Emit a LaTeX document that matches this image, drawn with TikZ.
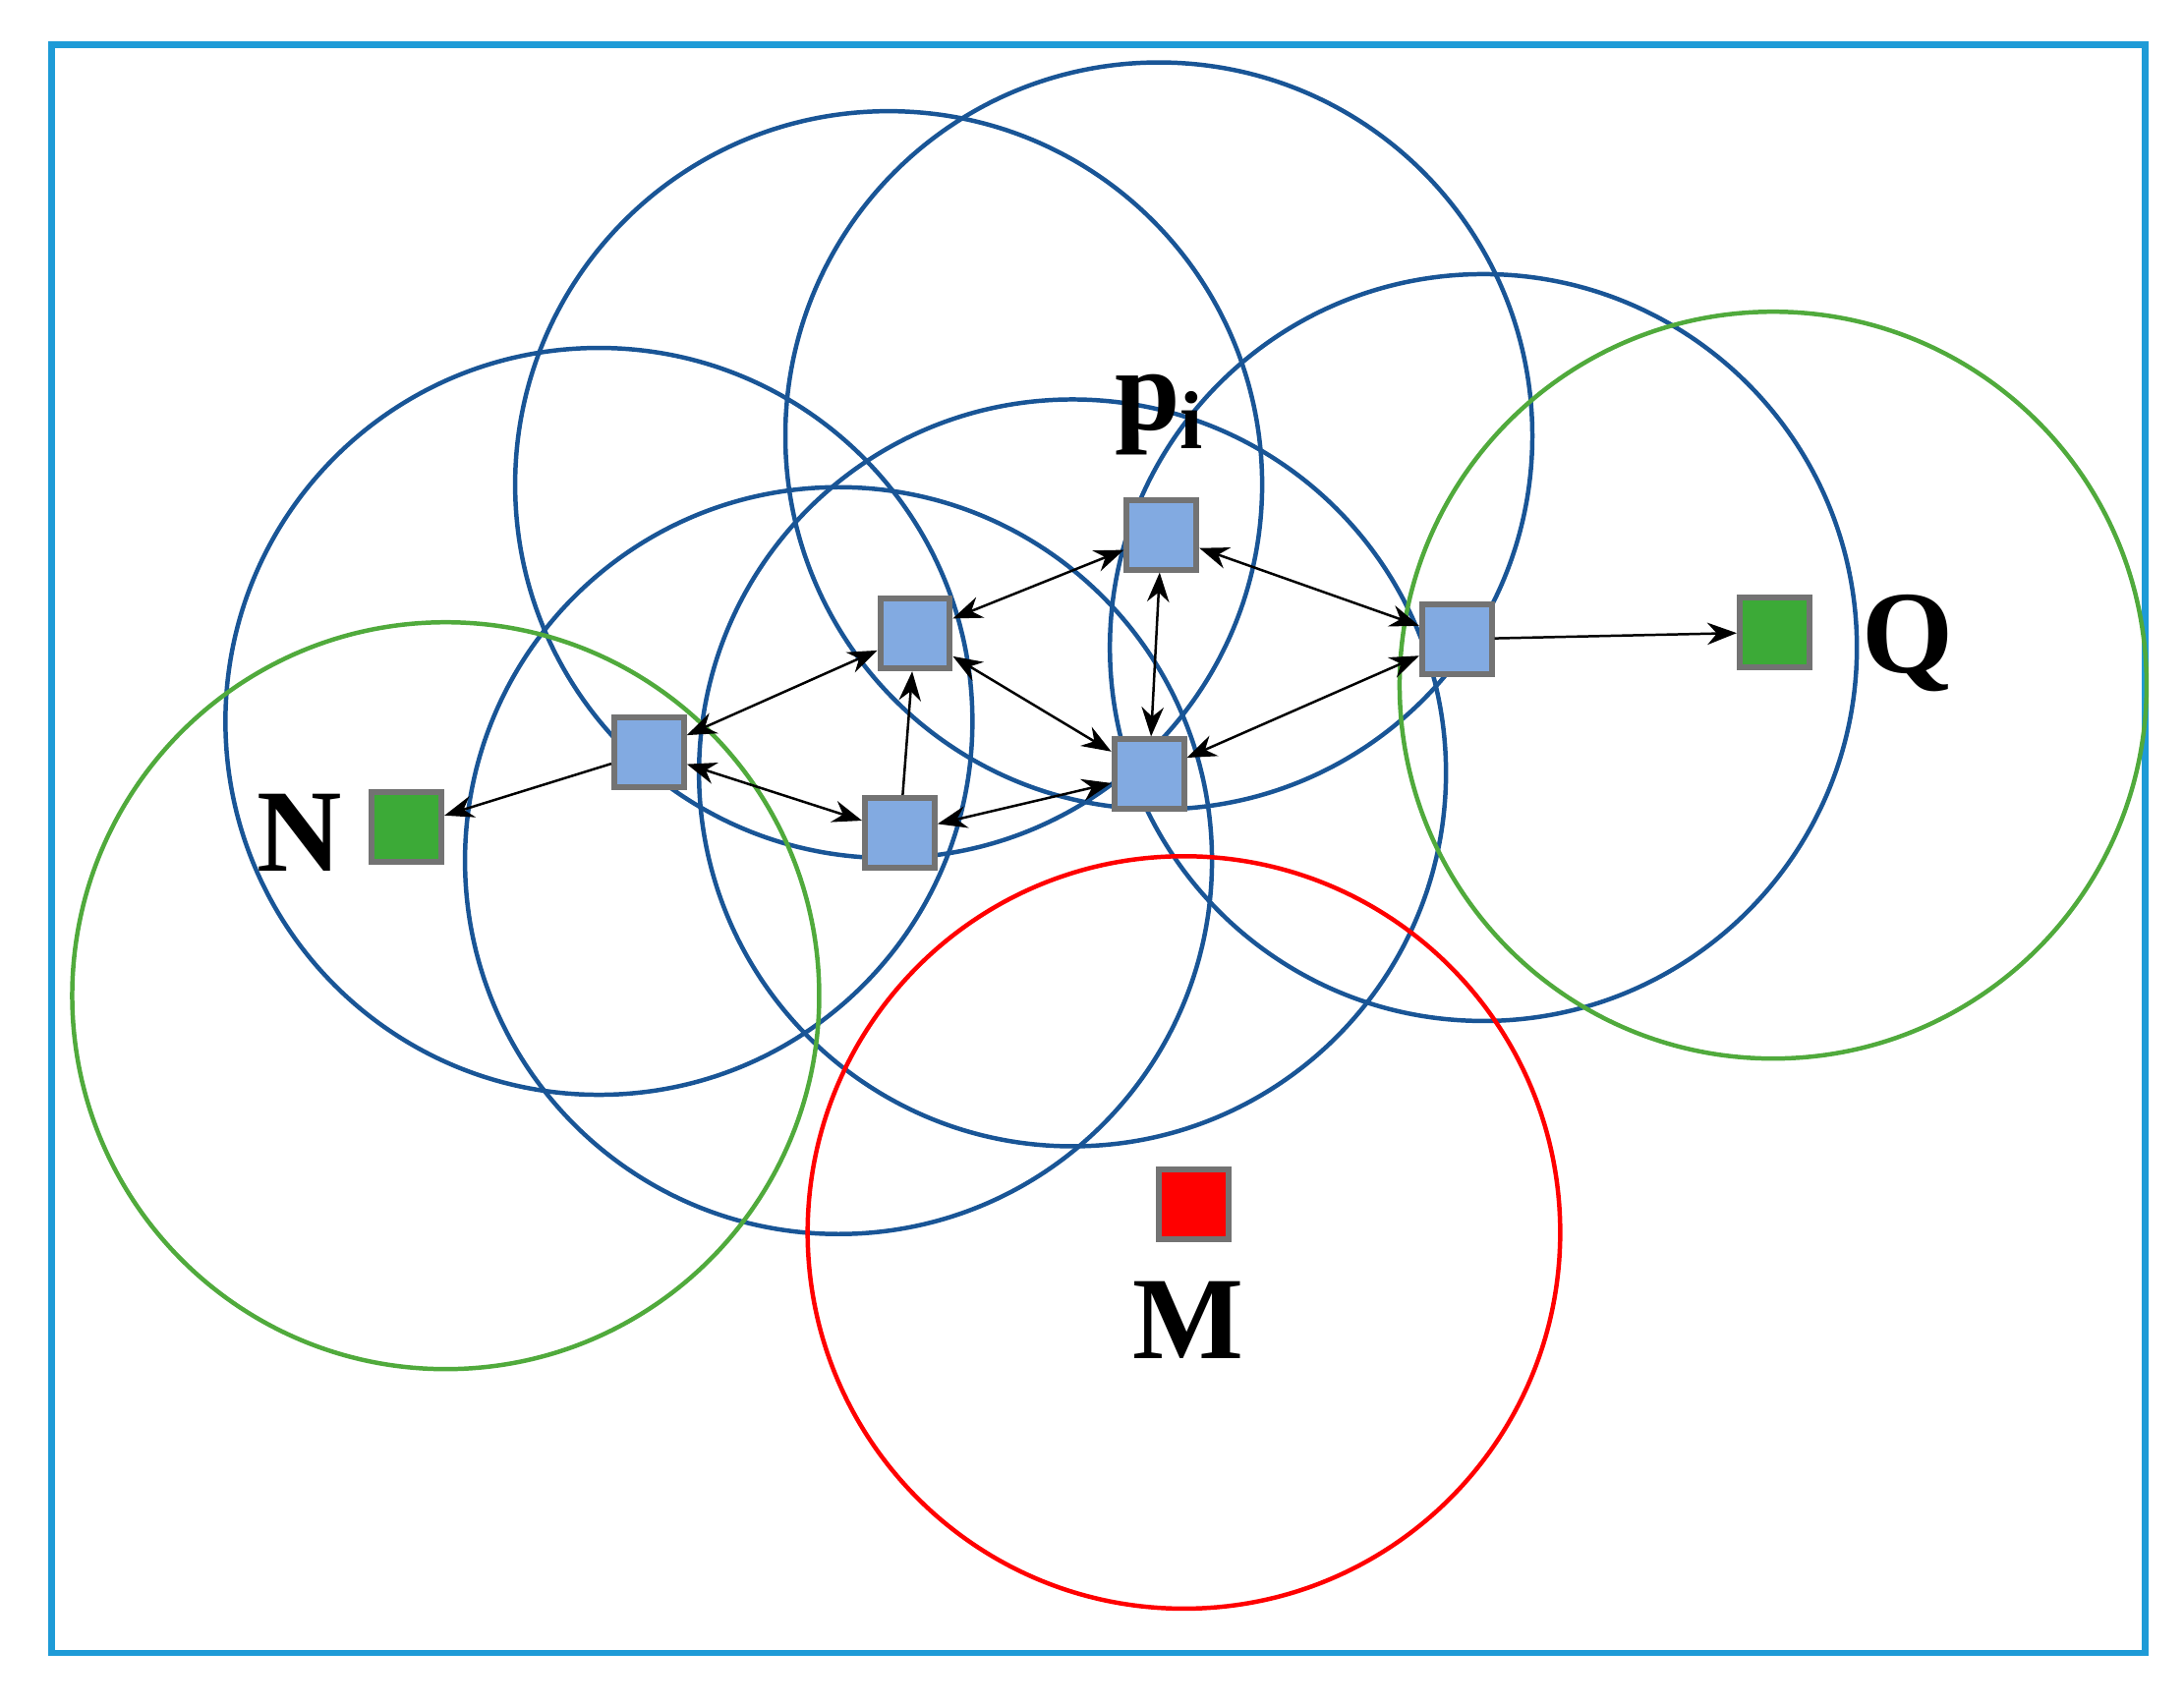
\documentclass[tikz,border=0pt]{standalone}
\usepackage{fontspec}
\setmainfont{Liberation Serif}
\usetikzlibrary{arrows.meta}
\definecolor{frameblue}{RGB}{30,155,215}
\definecolor{ringblue}{RGB}{25,85,150}
\definecolor{ringgreen}{RGB}{80,170,60}
\definecolor{boxblue}{RGB}{130,170,225}
\definecolor{boxgreen}{RGB}{60,170,55}
\tikzset{
  sensor/.style={draw=gray!90!black,line width=1.2pt,minimum size=0.5cm,inner sep=0pt},
  link/.style={line width=0.5pt,{Stealth[length=6pt]}-{Stealth[length=6pt]}},
  onelink/.style={line width=0.5pt,-{Stealth[length=6pt]}},
  lbl/.style={font=\fontsize{24}{24}\selectfont\bfseries}
}
\begin{document}
\begin{tikzpicture}[x=0.01cm,y=-0.01cm]
\useasboundingbox (0,0) rectangle (1568,1225);
\draw[frameblue,line width=1.3pt] (37,32) rectangle (1540,1187);
% coverage circles
\foreach \cx/\cy in {430/518,638/348,832/313,1065/465,770/555,602/618}
  \draw[ringblue,line width=0.9pt] (\cx,\cy) circle [radius=2.68cm];
\foreach \cx/\cy in {320/715,1273/492}
  \draw[ringgreen,line width=0.9pt] (\cx,\cy) circle [radius=2.68cm];
\draw[red,line width=0.9pt] (850,885) circle [radius=2.70cm];
% nodes
\node[sensor,fill=boxgreen] (N) at (292,594) {};
\node[sensor,fill=boxblue] (a) at (466,540) {};
\node[sensor,fill=boxblue] (b) at (657,455) {};
\node[sensor,fill=boxblue] (c) at (646,598) {};
\node[sensor,fill=boxblue] (pi) at (834,384) {};
\node[sensor,fill=boxblue] (e) at (825,556) {};
\node[sensor,fill=boxblue] (f) at (1046,459) {};
\node[sensor,fill=boxgreen] (Q) at (1274,454) {};
\node[sensor,fill=red] (M) at (857,865) {};
% labels
\node[lbl] (lN) at (215,598) {N};
\node[lbl] (lQ) at (1370,462) {Q};
\node[lbl] (lM) at (853,948) {M};
\node[lbl] (lpi) at (833,298) {p\textsubscript{i}};
% links
\draw[onelink] (a) -- (N);
\draw[link] (a) -- (b);
\draw[link] (a) -- (c);
\draw[onelink] (c) -- (b);
\draw[link] (b) -- (pi);
\draw[link] (b) -- (e);
\draw[link] (c) -- (e);
\draw[link] (pi) -- (e);
\draw[link] (pi) -- (f);
\draw[link] (e) -- (f);
\draw[onelink] (f) -- (Q);
\end{tikzpicture}
\end{document}
